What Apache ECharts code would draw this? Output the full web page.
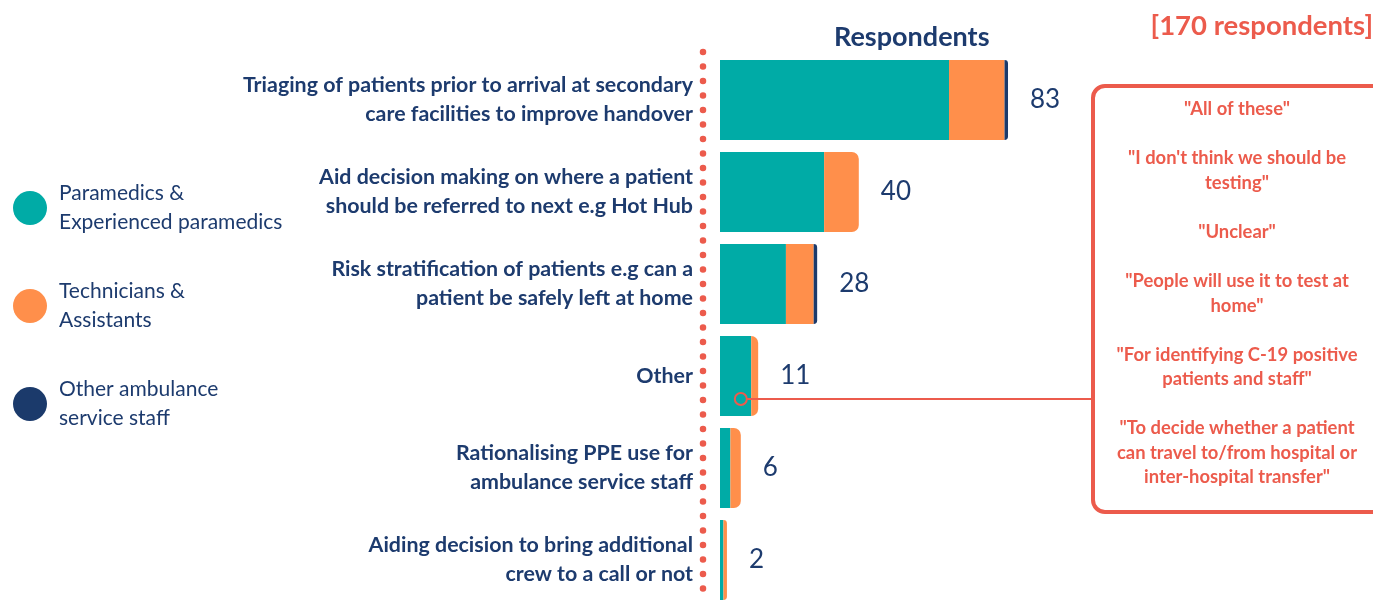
<!DOCTYPE html>
<html>
<head>
<meta charset="utf-8">
<script src="https://cdn.jsdelivr.net/npm/echarts@6/dist/echarts.min.js"></script>
<style>
  html, body { margin: 0; padding: 0; background: #fff; }
  #main { width: 1373px; height: 602px; }
</style>
</head>
<body>
<div id="main"></div>
<script>
var categories = [
  'Triaging of patients prior to arrival at secondary\ncare facilities to improve handover',
  'Aid decision making on where a patient\nshould be referred to next e.g Hot Hub',
  'Risk stratification of patients e.g can a\npatient be safely left at home',
  'Other',
  'Rationalising PPE use for\nambulance service staff',
  'Aiding decision to bring additional\ncrew to a call or not'
];
var paramedics = [66, 30, 19, 9, 3, 1];
var technicians = [16, 10, 8, 2, 3, 1];
var otherStaff = [1, 0, 1, 0, 0, 0];
var totals = [83, 40, 28, 11, 6, 2];

var seriesNames = ['Paramedics &\nExperienced paramedics', 'Technicians &\nAssistants', 'Other ambulance\nservice staff'];
var colors = ['#00aba6', '#ff8f4b', '#1b3a6b'];
var quotes = [
  '"All of these"',
  '"I don\'t think we should be\ntesting"',
  '"Unclear"',
  '"People will use it to test at\nhome"',
  '"For identifying C-19 positive\npatients and staff"',
  '"To decide whether a patient\ncan travel to/from hospital or\ninter-hospital transfer"'
];

var navy = '#1d3b6e';
var red = '#ec5b4c';
var font = 'Lato';

var chart = echarts.init(document.getElementById('main'));
var values = [paramedics, technicians, otherStaff];

// round the right end of whichever segment is last in each bar
function buildData(si) {
  return values[si].map(function (v, i) {
    var last = 0;
    for (var k = 0; k < values.length; k++) if (values[k][i] > 0) last = k;
    var item = { value: v };
    if (si === last) item.itemStyle = { borderRadius: [0, 7, 7, 0] };
    return item;
  });
}

var series = values.map(function (arr, si) {
  var s = {
    name: seriesNames[si],
    type: 'bar',
    stack: 'all',
    barWidth: 80,
    clip: false,
    itemStyle: { color: colors[si] },
    data: buildData(si)
  };
  if (si === values.length - 1) {
    s.label = {
      show: true,
      position: 'right',
      distance: 22,
      color: navy,
      fontFamily: font,
      fontSize: 26,
      formatter: function (p) { return totals[p.dataIndex]; }
    };
  }
  return s;
});

chart.setOption({
  animation: false,
  title: [{
    text: 'Respondents',
    left: 829, top: 19,
    textStyle: { color: navy, fontFamily: font, fontSize: 27, fontWeight: 'bold' }
  }, {
    text: '[170 respondents]',
    right: -5, top: 7,
    textStyle: { color: red, fontFamily: font, fontSize: 27.5, fontWeight: 'bold' }
  }],
  legend: {
    orient: 'vertical',
    left: 13, top: 176,
    padding: 0,
    icon: 'circle',
    itemWidth: 34, itemHeight: 34,
    itemGap: 34,
    selectedMode: false,
    data: seriesNames,
    textStyle: { color: navy, fontFamily: font, fontSize: 21, lineHeight: 29, padding: [6, 0, 0, 7] }
  },
  // categories sit on the grid edges so the rows are 92px apart
  grid: { left: 720, top: 100, height: 460, width: 347 },
  xAxis: { type: 'value', min: 0, max: 100, show: false },
  yAxis: {
    type: 'category',
    inverse: true,
    boundaryGap: false,
    data: categories,
    axisTick: { show: false },
    axisLine: { show: false },
    axisLabel: {
      margin: 27,
      color: navy,
      fontFamily: font,
      fontSize: 21.4,
      fontWeight: 'bold',
      lineHeight: 29
    }
  },
  series: series
});

// dotted divider and callout for the "Other" answers
var p = chart.convertToPixel({ gridIndex: 0 }, [6, 3]);
chart.setOption({
  graphic: [{
    type: 'line',
    z: 100,
    shape: { x1: 703, y1: 52, x2: 703, y2: 602 },
    style: { stroke: red, lineWidth: 6.5, lineDash: [0, 14.5], lineCap: 'round' }
  }, {
    type: 'rect',
    z: 100,
    shape: { x: 1093, y: 86, width: 310, height: 426, r: 12 },
    style: { fill: '#fff', stroke: red, lineWidth: 4 }
  }, {
    type: 'text',
    z: 101,
    x: 1237, y: 97,
    style: {
      text: quotes.join('\n\n'),
      align: 'center',
      fill: red,
      font: 'bold 18.4px Lato',
      lineHeight: 24.55
    }
  }, {
    type: 'line',
    z: 100,
    shape: { x1: p[0] + 6, y1: p[1] + 23, x2: 1093, y2: p[1] + 23 },
    style: { stroke: red, lineWidth: 2 }
  }, {
    type: 'circle',
    z: 100,
    shape: { cx: p[0], cy: p[1] + 23, r: 6 },
    style: { fill: 'none', stroke: red, lineWidth: 2 }
  }]
});
</script>
</body>
</html>
